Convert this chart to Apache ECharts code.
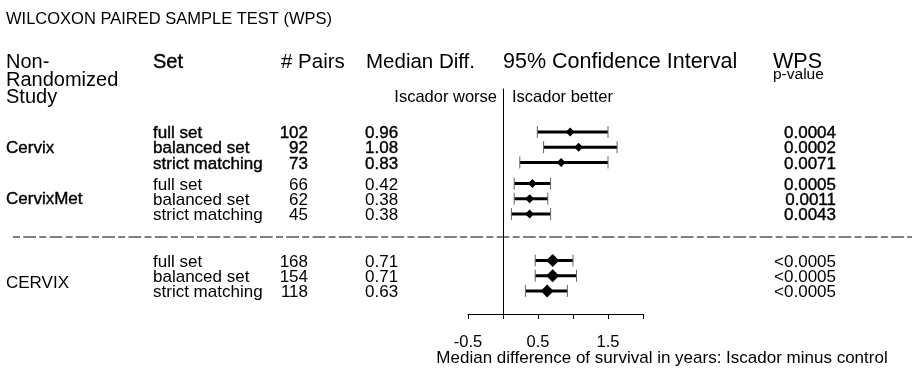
<!DOCTYPE html>
<html><head><meta charset="utf-8">
<script src="https://cdn.jsdelivr.net/npm/echarts@6/dist/echarts.min.js"></script>
<style>html,body{margin:0;padding:0;background:#fff}#c{width:912px;height:372px}</style>
</head><body><div id="c"></div>
<script>
// ---- data ----
const groups = ['Cervix', 'CervixMet', 'CERVIX'];
const setNames = ['full set', 'balanced set', 'strict matching'];
const pairs = [102, 92, 73, 66, 62, 45, 168, 154, 118];
const medianDiff = ['0.96', '1.08', '0.83', '0.42', '0.38', '0.38', '0.71', '0.71', '0.63'];
const medians = [0.96, 1.08, 0.83, 0.42, 0.38, 0.38, 0.71, 0.71, 0.63];
const ciLow = [0.49, 0.58, 0.24, 0.16, 0.16, 0.12, 0.46, 0.46, 0.32];
const ciHigh = [1.50, 1.63, 1.50, 0.68, 0.64, 0.68, 1.00, 1.05, 0.92];
const pValues = ['0.0004', '0.0002', '0.0071', '0.0005', '0.0011', '0.0043', '<0.0005', '<0.0005', '<0.0005'];
const xTickLabels = [-0.5, 0.5, 1.5];

// ---- layout ----
const FONT = '"Liberation Sans", Arial, Helvetica, sans-serif';
const groupStart = [2.83, 6.22, 11.28]; // row units on the hidden y scale
const groupLabelShift = [-0.5, -1, 6.5]; // px, label offset from the middle row
const rowPos = [];
groups.forEach((g, gi) => setNames.forEach((s, si) => rowPos.push(groupStart[gi] + si)));

const chart = echarts.init(document.getElementById('c'), null, {renderer: 'canvas'});

const seriesData = rowPos.map((y, i) => [ciLow[i], ciHigh[i], medians[i], y, i]);

chart.setOption({
  animation: false,
  grid: {left: 468, right: 269, top: 89, bottom: 58},
  xAxis: {
    type: 'value', min: -0.5, max: 2, interval: 0.5,
    axisLine: {onZero: false, lineStyle: {color: '#000', width: 1}},
    axisTick: {show: true, length: 5, lineStyle: {color: '#000'}},
    splitLine: {show: false},
    axisLabel: {
      margin: 20, color: '#000', fontSize: 16.5, fontFamily: FONT,
      formatter: v => (xTickLabels.indexOf(v) >= 0 ? String(v) : '')
    }
  },
  yAxis: {
    type: 'value', min: 0, max: 14.8, inverse: true,
    axisLine: {show: true, onZero: true, lineStyle: {color: '#000', width: 1}},
    axisTick: {show: false}, axisLabel: {show: false}, splitLine: {show: false}
  },
  series: [{
    type: 'custom',
    data: seriesData,
    renderItem: function (params, api) {
      const lo = api.coord([api.value(0), api.value(3)]);
      const hi = api.coord([api.value(1), api.value(3)]);
      const md = api.coord([api.value(2), api.value(3)]);
      const idx = api.value(4);
      const hs = idx < 6 ? 4.5 : 6.5;
      const capH = 6;
      return {
        type: 'group',
        children: [
          {type: 'line', shape: {x1: lo[0], y1: lo[1], x2: hi[0], y2: hi[1]}, style: {stroke: '#000', lineWidth: 3}},
          {type: 'line', shape: {x1: lo[0], y1: lo[1] - capH, x2: lo[0], y2: lo[1] + capH}, style: {stroke: '#666', lineWidth: 1}},
          {type: 'line', shape: {x1: hi[0], y1: hi[1] - capH, x2: hi[0], y2: hi[1] + capH}, style: {stroke: '#666', lineWidth: 1}},
          {type: 'polygon', shape: {points: [[md[0] - hs, md[1]], [md[0], md[1] - hs], [md[0] + hs, md[1]], [md[0], md[1] + hs]]}, style: {fill: '#000'}}
        ]
      };
    }
  }]
});

// ---- texts (rows placed through the chart's own y scale) ----
const rowY = rowPos.map(r => chart.convertToPixel({gridIndex: 0}, [0, r])[1] + 1.5);
const gfx = [];
function txt(x, y, s, size, opt) {
  opt = opt || {};
  gfx.push({
    type: 'text', x: x, y: y, silent: true,
    style: Object.assign({
      text: s, fill: '#000', font: size + 'px ' + FONT,
      textAlign: opt.align || 'left', textVerticalAlign: 'middle'
    }, opt.bold ? {stroke: '#000', lineWidth: 0.4} : {})
  });
}
txt(6, 19, 'WILCOXON PAIRED SAMPLE TEST (WPS)', 16.5);
txt(6, 62, 'Non-', 20);
txt(6, 80, 'Randomized', 20);
txt(6, 97, 'Study', 20);
txt(153, 62, 'Set', 20, {bold: true});
txt(281, 62, '# Pairs', 20.5);
txt(366, 62, 'Median Diff.', 20.5);
txt(503, 62, '95% Confidence Interval', 21.5);
txt(773, 62, 'WPS', 21.5);
txt(773, 75, 'p-value', 15.5);
txt(497, 97, 'Iscador worse', 16.5, {align: 'right'});
txt(512, 97, 'Iscador better', 16.5);

groups.forEach((g, gi) => {
  txt(6, rowY[gi * 3 + 1] + groupLabelShift[gi], g, 17, {bold: gi < 2});
});
for (let i = 0; i < 9; i++) {
  const gi = Math.floor(i / 3), si = i % 3;
  const y = rowY[i];
  const b = i < 6;
  txt(153, y, setNames[si], 17, {bold: b && gi === 0});
  txt(308, y, String(pairs[i]), 17, {bold: b && gi === 0, align: 'right'});
  txt(365, y, medianDiff[i], 17, {bold: b && gi === 0});
  txt(836, y, pValues[i], 17, {bold: b, align: 'right'});
}
gfx.push({
  type: 'line', silent: true,
  shape: {x1: 13, y1: 237, x2: 912, y2: 237},
  style: {stroke: '#000', lineWidth: 1, lineDash: [7, 3.3, 12.7, 3.3]}
});
txt(662, 358, 'Median difference of survival in years: Iscador minus control', 17, {align: 'center'});

chart.setOption({graphic: gfx});
</script>
</body></html>
